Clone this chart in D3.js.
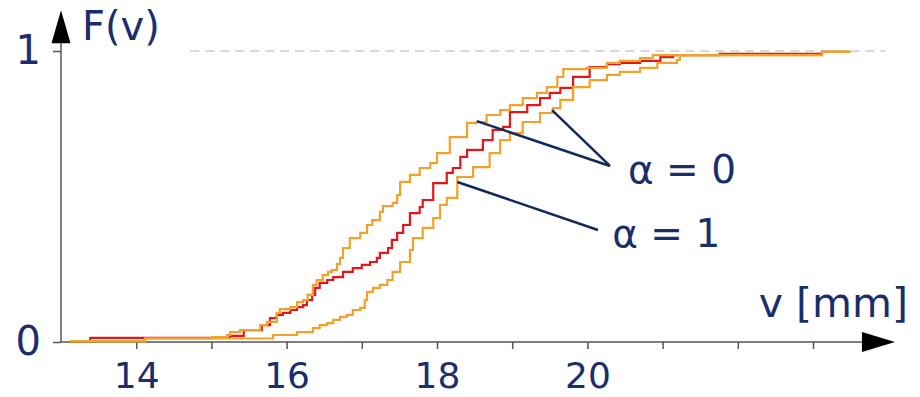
<!DOCTYPE html>
<html>
  <head>
    <meta charset="UTF-8" />
    <title>F(v) step curves</title>
    <script src="https://cdn.jsdelivr.net/npm/d3@7"></script>
    <style>
      body {
        margin: 0;
        background: #fff;
      }
      text {
        font-family: "DejaVu Sans", Verdana, sans-serif;
        fill: #1a2e6e;
      }
    </style>
  </head>
  <body>
    <div class="chart"></div>

    <script>
      // values: [v in mm, F(v)]
      let redCurve = [
        [13.12, 0.003], [13.39, 0.014], [15.25, 0.021], [15.43, 0.041],
        [15.67, 0.058], [15.78, 0.082], [15.87, 0.093], [15.95, 0.1],
        [16.05, 0.11], [16.14, 0.12], [16.22, 0.127], [16.27, 0.144],
        [16.34, 0.162], [16.38, 0.186], [16.44, 0.203], [16.54, 0.213],
        [16.62, 0.223], [16.75, 0.241], [16.88, 0.254], [17.0, 0.265],
        [17.11, 0.275], [17.2, 0.289], [17.24, 0.306], [17.35, 0.323],
        [17.4, 0.351], [17.47, 0.375], [17.55, 0.402], [17.64, 0.443],
        [17.77, 0.464], [17.81, 0.488], [17.95, 0.546], [18.13, 0.581],
        [18.21, 0.598], [18.31, 0.636], [18.4, 0.66], [18.61, 0.694],
        [18.74, 0.729], [18.88, 0.739], [18.97, 0.79], [19.2, 0.814],
        [19.37, 0.838], [19.5, 0.856], [19.64, 0.873], [19.81, 0.911],
        [20.03, 0.945], [20.26, 0.955], [20.43, 0.959], [20.7, 0.966],
        [20.97, 0.979], [21.14, 0.986], [21.76, 0.99], [23.12, 0.997],
        [23.49, 1.0],
      ];

      let upperCurve = [
        [13.12, 0.003], [14.12, 0.012], [15.01, 0.017], [15.21, 0.024],
        [15.25, 0.034], [15.38, 0.041], [15.65, 0.058], [15.74, 0.069],
        [15.87, 0.1], [15.91, 0.113], [16.05, 0.12], [16.14, 0.137],
        [16.22, 0.144], [16.28, 0.162], [16.35, 0.196], [16.4, 0.213],
        [16.48, 0.23], [16.55, 0.241], [16.6, 0.247], [16.67, 0.268],
        [16.71, 0.289], [16.75, 0.323], [16.84, 0.357], [16.98, 0.375],
        [17.07, 0.402], [17.14, 0.419], [17.24, 0.447], [17.28, 0.467],
        [17.41, 0.478], [17.47, 0.505], [17.51, 0.55], [17.64, 0.574],
        [17.77, 0.598], [17.91, 0.615], [18.0, 0.649], [18.17, 0.704],
        [18.4, 0.753], [18.53, 0.756], [18.66, 0.78], [18.84, 0.797],
        [18.97, 0.814], [19.14, 0.838], [19.33, 0.856], [19.46, 0.876],
        [19.6, 0.911], [19.68, 0.938], [19.99, 0.942], [20.26, 0.959],
        [20.43, 0.966], [20.7, 0.976], [20.87, 0.986], [23.12, 0.997],
        [23.49, 1.0],
      ];

      let lowerCurve = [
        [13.12, 0.003], [14.12, 0.012], [15.82, 0.024], [16.14, 0.034],
        [16.35, 0.048], [16.44, 0.058], [16.54, 0.065], [16.62, 0.076],
        [16.71, 0.086], [16.8, 0.093], [16.88, 0.11], [16.98, 0.117],
        [17.04, 0.144], [17.07, 0.172], [17.15, 0.186], [17.24, 0.196],
        [17.34, 0.213], [17.41, 0.241], [17.51, 0.275], [17.64, 0.316],
        [17.68, 0.357], [17.81, 0.392], [17.95, 0.426], [18.04, 0.471],
        [18.13, 0.495], [18.27, 0.567], [18.48, 0.601], [18.7, 0.649],
        [18.84, 0.694], [18.97, 0.718], [19.14, 0.756], [19.37, 0.787],
        [19.54, 0.804], [19.64, 0.832], [19.81, 0.876], [20.03, 0.9],
        [20.26, 0.918], [20.43, 0.928], [20.7, 0.942], [20.93, 0.959],
        [21.19, 0.969], [21.23, 0.986], [23.12, 0.997], [23.49, 1.0],
      ];

      let xTicks = [14, 15, 16, 17, 18, 19, 20, 21, 22, 23];
      let xTickLabels = { 14: "14", 16: "16", 18: "18", 20: "20" };
      let yTicks = [0, 1];

      // annotations: leader lines [v, F] -> [v, F]
      let labels = [
        { text: "\u03b1 = 0", at: [20.54, 0.548] },
        { text: "\u03b1 = 1", at: [20.33, 0.327] },
      ];
      let leaders = [
        [[18.53, 0.759], [20.3, 0.605]],
        [[19.53, 0.797], [20.3, 0.605]],
        [[18.27, 0.55], [20.14, 0.385]],
      ];
      let refLine = [14.72, 23.96]; // dashed line at F = 1

      // set up
      let width = 920;
      let height = 397;

      let svg = d3
        .select(".chart")
        .append("svg")
        .attr("width", width)
        .attr("height", height);

      let x = d3.scaleLinear().domain([13, 23.5]).range([61, 850.6]);
      let y = d3.scaleLinear().domain([0, 1]).range([342, 51]);

      let axisColor = "#555";

      // dashed reference line at 1
      svg
        .append("line")
        .attr("x1", x(refLine[0]))
        .attr("x2", x(refLine[1]))
        .attr("y1", y(1))
        .attr("y2", y(1))
        .attr("stroke", "#cccccc")
        .attr("stroke-width", 1.5)
        .attr("stroke-dasharray", "9,6");

      // x axis
      let xAxis = svg
        .append("g")
        .attr("transform", `translate(0,${y(0)})`)
        .call(
          d3
            .axisBottom(x)
            .tickValues(xTicks)
            .tickSize(7)
            .tickPadding(13)
            .tickFormat((d) => xTickLabels[d] || "")
        );
      xAxis.select(".domain").remove();
      xAxis.selectAll(".tick line").attr("stroke", axisColor).attr("stroke-width", 1.5);
      xAxis
        .selectAll(".tick text")
        .attr("font-size", 36)
        .attr("font-family", null)
        .attr("fill", null);

      // y axis
      let yAxis = svg
        .append("g")
        .attr("transform", `translate(${x(13)},0)`)
        .call(
          d3
            .axisLeft(y)
            .tickValues(yTicks)
            .tickSize(8)
            .tickPadding(12)
            .tickFormat(d3.format("d"))
        );
      yAxis.select(".domain").remove();
      yAxis.selectAll(".tick line").attr("stroke", axisColor).attr("stroke-width", 1.5);
      yAxis
        .selectAll(".tick text")
        .attr("font-size", 40)
        .attr("font-family", null)
        .attr("fill", null);

      // axis lines with arrow heads
      let xEnd = x(24.09);
      let yEnd = y(1.14);
      let arrow = 33;

      svg
        .append("line")
        .attr("x1", x(13))
        .attr("x2", xEnd - arrow)
        .attr("y1", y(0))
        .attr("y2", y(0))
        .attr("stroke", axisColor)
        .attr("stroke-width", 1.5);
      svg
        .append("path")
        .attr(
          "d",
          `M${xEnd},${y(0)}L${xEnd - arrow},${y(0) - 10}L${xEnd - arrow},${y(0) + 10}Z`
        )
        .attr("fill", "#000");

      svg
        .append("line")
        .attr("x1", x(13))
        .attr("x2", x(13))
        .attr("y1", y(0))
        .attr("y2", yEnd + arrow)
        .attr("stroke", axisColor)
        .attr("stroke-width", 1.5);
      svg
        .append("path")
        .attr(
          "d",
          `M${x(13)},${yEnd}L${x(13) - 9.5},${yEnd + arrow}L${x(13) + 9.5},${yEnd + arrow}Z`
        )
        .attr("fill", "#000");

      // curves (red first, orange bounds over it)
      let line = d3
        .line()
        .x((d) => x(d[0]))
        .y((d) => y(d[1]))
        .curve(d3.curveStepAfter);

      let curves = [
        { data: redCurve, color: "#e4161b" },
        { data: lowerCurve, color: "#f2a229" },
        { data: upperCurve, color: "#f2a229" },
      ];
      curves.forEach((c) => {
        svg
          .append("path")
          .datum(c.data)
          .attr("fill", "none")
          .attr("stroke", c.color)
          .attr("stroke-width", 2.2)
          .attr("d", line);
      });

      // leader lines
      leaders.forEach((l) => {
        svg
          .append("line")
          .attr("x1", x(l[0][0]))
          .attr("y1", y(l[0][1]))
          .attr("x2", x(l[1][0]))
          .attr("y2", y(l[1][1]))
          .attr("stroke", "#12295e")
          .attr("stroke-width", 2.5);
      });

      labels.forEach((l) => {
        svg
          .append("text")
          .attr("x", x(l.at[0]))
          .attr("y", y(l.at[1]))
          .attr("font-size", 39)
          .text(l.text);
      });

      // axis titles
      svg
        .append("text")
        .attr("x", 82)
        .attr("y", 40)
        .attr("font-size", 40)
        .text("F(v)");

      svg
        .append("text")
        .attr("x", 908)
        .attr("y", 317)
        .attr("text-anchor", "end")
        .attr("font-size", 41)
        .text("v [mm]");
    </script>
  </body>
</html>
